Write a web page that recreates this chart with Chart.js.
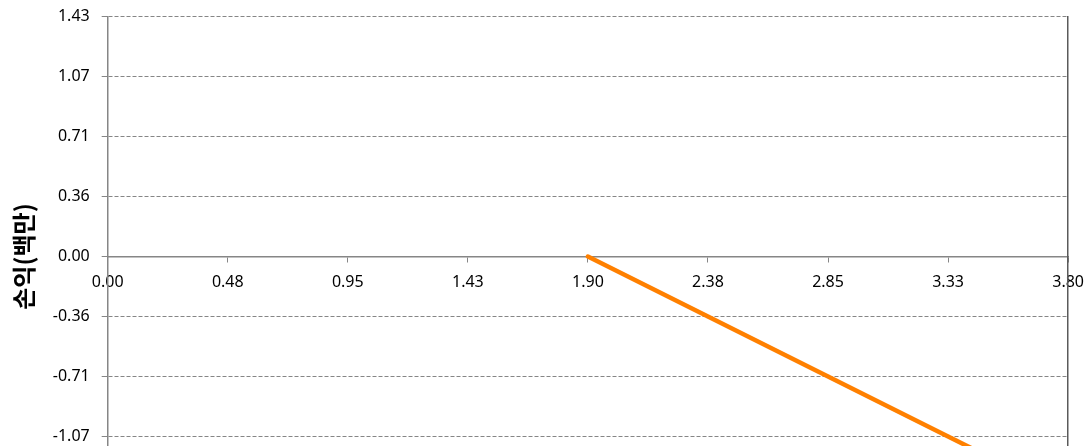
<!DOCTYPE html>
<html>
<head>
<meta charset="utf-8">
<script src="https://cdn.jsdelivr.net/npm/chart.js@4/dist/chart.umd.min.js"></script>
<style>
html,body{margin:0;padding:0;background:#fff;overflow:hidden;}
#wrap{position:relative;width:1095px;height:523px;margin-top:-5px;}
</style>
</head>
<body>
<div id="wrap"><canvas id="c"></canvas></div>
<script>
const xTickValues = [0, 0.475, 0.95, 1.425, 1.9, 2.375, 2.85, 3.325, 3.8];
const xTickLabels = ["0.00","0.48","0.95","1.43","1.90","2.38","2.85","3.33","3.80"];
const yTickValues = [1.43, 1.0725, 0.715, 0.3575, 0, -0.3575, -0.715, -1.0725, -1.43];
const yTickLabels = ["1.43","1.07","0.71","0.36","0.00","-0.36","-0.71","-1.07","-1.43"];
const seriesX = [1.9, 2.375, 2.85, 3.325, 3.8];
const seriesY = [0, -0.3575, -0.715, -1.0725, -1.43];
const yTitle = "손익(백만)";

const gridGray = "#868686";
const tickFont = {family: "'Noto Sans', 'DejaVu Sans', sans-serif", size: 16};

new Chart(document.getElementById("c"), {
  type: "scatter",
  data: {
    datasets: [{
      data: seriesX.map((x, i) => ({x: x, y: seriesY[i]})),
      showLine: true,
      borderColor: "#FF8000",
      backgroundColor: "#FF8000",
      borderWidth: 4.5,
      pointRadius: 0,
      borderCapStyle: "round",
      tension: 0
    }]
  },
  options: {
    responsive: true,
    maintainAspectRatio: false,
    animation: false,
    layout: {padding: {top: 0, right: 1, bottom: 4, left: 9}},
    plugins: {legend: {display: false}, tooltip: {enabled: false}},
    scales: {
      x: {
        type: "linear",
        min: 0, max: 3.8,
        position: {y: 0},
        afterBuildTicks: (axis) => { axis.ticks = xTickValues.map(v => ({value: v})); },
        ticks: {
          callback: (v, i) => xTickLabels[i],
          color: "#000",
          font: tickFont,
          padding: 11,
          maxRotation: 0,
          autoSkip: false
        },
        grid: {drawOnChartArea: false, drawTicks: true, tickLength: 5, color: gridGray},
        border: {display: true, color: gridGray, width: 1.5}
      },
      y: {
        type: "linear",
        min: -1.43, max: 1.43,
        position: "left",
        afterBuildTicks: (axis) => { axis.ticks = yTickValues.map(v => ({value: v})); },
        ticks: {
          callback: (v, i) => yTickLabels[i],
          color: "#000",
          font: tickFont,
          padding: 12,
          autoSkip: false
        },
        grid: {
          color: (ctx) => (ctx.tick && ctx.tick.value === 0) ? "rgba(0,0,0,0)" : gridGray,
          tickColor: gridGray,
          tickLength: 6,
          lineWidth: 1
        },
        border: {display: true, color: gridGray, width: 1.5, dash: [4, 2]},
        title: {
          display: true,
          text: yTitle,
          color: "#000",
          font: {family: "'Noto Sans CJK KR', sans-serif", size: 24, weight: "bold"},
          padding: {top: 0, bottom: 3}
        }
      },
      y2: {
        type: "linear",
        min: -1.43, max: 1.43,
        position: "right",
        ticks: {display: false},
        grid: {display: false, drawOnChartArea: false},
        border: {display: true, color: "#5a5a5a", width: 1.5}
      }
    }
  }
});
</script>
</body>
</html>
